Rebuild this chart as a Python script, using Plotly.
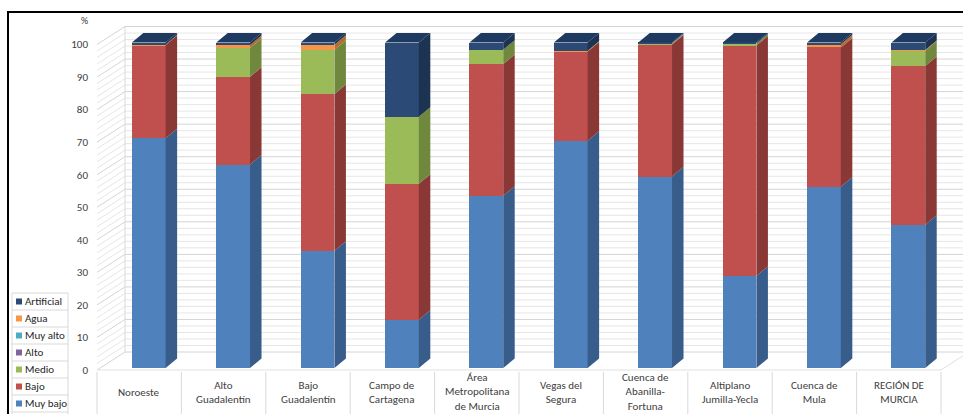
import plotly.graph_objects as go

# ---------------- data ----------------
categories = ["Noroeste", "Alto<br>Guadalentín", "Bajo<br>Guadalentín", "Campo de<br>Cartagena",
              "Área<br>Metropolitana<br>de Murcia", "Vegas del<br>Segura",
              "Cuenca de<br>Abanilla-<br>Fortuna", "Altiplano<br>Jumilla-Yecla",
              "Cuenca de<br>Mula", "REGIÓN DE<br>MURCIA"]

series_names = ["Muy bajo", "Bajo", "Medio", "Alto", "Muy alto", "Agua", "Artificial"]
muy_bajo   = [70.6, 62.5, 36.0, 14.8, 52.9, 69.8, 58.8, 28.3, 55.7, 44.0]
bajo       = [28.6, 27.0, 48.2, 41.8, 40.5, 27.4, 40.6, 70.8, 42.8, 48.8]
medio      = [0.0, 8.8, 13.6, 20.6, 4.4, 0.0, 0.2, 0.6, 0.0, 4.7]
alto       = [0.0] * 10
muy_alto   = [0.0] * 10
agua       = [0.2, 0.9, 1.5, 0.0, 0.0, 0.3, 0.2, 0.0, 1.0, 0.2]
artificial = [0.6, 0.8, 0.7, 22.8, 2.2, 2.5, 0.2, 0.3, 0.5, 2.3]
series_values = [muy_bajo, bajo, medio, alto, muy_alto, agua, artificial]

y_ticks = list(range(0, 101, 10))

# ---------------- style ----------------
front_colors = ["#4F81BD", "#C0504D", "#9BBB59", "#8064A2", "#4BACC6", "#F79646", "#2B4A76"]
side_colors  = ["#385D8A", "#8A3836", "#6F883D", "#5C4776", "#31849B", "#B66D31", "#1C3352"]
top_colors   = ["#3F6AA0", "#A84543", "#86A54A", "#6C5490", "#3C98B0", "#E0843A", "#1F3A61"]

FONT = "Carlito, Lato, 'Liberation Sans', sans-serif"
TXT = "#404040"

# pixel geometry
W, H = 963, 414
L, R, T, B = 97, 0, 14, 42
PW, PH = W - L - R, H - T - B
CAT_PX = 84.4                 # pixels per category
PX_PER_UNIT = 3.255           # pixels per value unit
xmin = -0.5
xmax = xmin + PW / CAT_PX
ymin = -(H - B - 368) / PX_PER_UNIT
ymax = ymin + PH / PX_PER_UNIT

bar_w = 0.40
bar_off = 0.113
dx = 11.5 / CAT_PX
dy = 9.5 / PX_PER_UNIT
front_off = -2.0 / PX_PER_UNIT
wall_dx = 28 / CAT_PX
wall_dy = 16 / PX_PER_UNIT


def pxx(px):
    return (px - L) / PW


def pxy(py):
    return (H - B - py) / PH


def xpaper(xv):
    return (xv - xmin) / (xmax - xmin)


fig = go.Figure()
n = len(categories)
xs = [i + bar_off for i in range(n)]

# front faces
for name, vals, col in zip(series_names, series_values, front_colors):
    fig.add_trace(go.Bar(x=xs, y=vals, name=name, width=bar_w, marker=dict(color=col, line=dict(width=0)),
                         showlegend=False, hovertemplate=name + ": %{y}%<extra></extra>"))

# side faces & top faces
tops = {}
for i in range(n):
    base = 0.0
    top_idx = None
    for s, vals in enumerate(series_values):
        if vals[i] > 0:
            top_idx = s
        base += vals[i]
    tops[i] = (base, top_idx)

for s, (vals, col) in enumerate(zip(series_values, side_colors)):
    px_, py_ = [], []
    for i in range(n):
        lo = sum(series_values[k][i] for k in range(s))
        hi = lo + vals[i]
        if vals[i] <= 0:
            continue
        x1 = xs[i] + bar_w / 2
        px_ += [x1, x1, x1 + dx, x1 + dx, x1, None]
        py_ += [lo, hi, hi + dy, lo + dy, lo, None]
    if px_:
        fig.add_trace(go.Scatter(x=px_, y=py_, mode="lines", fill="toself", fillcolor=col,
                                 line=dict(width=0, color=col), hoverinfo="skip", showlegend=False))

top_groups = {}
for i in range(n):
    tot, idx = tops[i]
    x0 = xs[i] - bar_w / 2
    x1 = xs[i] + bar_w / 2
    g = top_groups.setdefault(idx, ([], []))
    g[0].extend([x0, x1, x1 + dx, x0 + dx, x0, None])
    g[1].extend([tot, tot, tot + dy, tot + dy, tot, None])
for idx, (gx, gy) in top_groups.items():
    fig.add_trace(go.Scatter(x=gx, y=gy, mode="lines", fill="toself", fillcolor=top_colors[idx],
                             line=dict(width=0, color=top_colors[idx]), hoverinfo="skip", showlegend=False))

shapes = []
# back wall gridlines & side wall diagonals
for v in range(0, 101, 2):
    major = v % 10 == 0
    c = "#D4D4D4" if major else "#E6E6E6"
    shapes.append(dict(type="line", xref="x", yref="y", x0=xmin + wall_dx, x1=xmax,
                       y0=v + wall_dy, y1=v + wall_dy, line=dict(color=c, width=1), layer="below"))
    shapes.append(dict(type="line", xref="x", yref="y", x0=xmin, x1=xmin + wall_dx,
                       y0=v + front_off, y1=v + wall_dy, line=dict(color=c, width=1), layer="below"))
# back wall left edge, floor edges
shapes.append(dict(type="line", xref="x", yref="y", x0=xmin + wall_dx, x1=xmin + wall_dx,
                   y0=wall_dy, y1=100 + wall_dy, line=dict(color="#D9D9D9", width=1), layer="below"))
shapes.append(dict(type="line", xref="x", yref="y", x0=xmin, x1=n - 0.5,
                   y0=front_off, y1=front_off, line=dict(color="#E0E0E0", width=1), layer="below"))
shapes.append(dict(type="line", xref="x", yref="y", x0=n - 0.5, x1=n - 0.5 + wall_dx,
                   y0=front_off, y1=wall_dy, line=dict(color="#E0E0E0", width=1), layer="below"))

# category separators
for k in range(n + 1):
    xp = xpaper(k - 0.5)
    shapes.append(dict(type="line", xref="paper", yref="paper", x0=xp, x1=xp,
                       y0=pxy(372), y1=pxy(416), line=dict(color="#D9D9D9", width=1)))

# outer frame (top and left)
shapes.append(dict(type="line", xref="paper", yref="paper", x0=pxx(7), x1=pxx(965),
                   y0=pxy(12), y1=pxy(12), line=dict(color="#000000", width=2)))
shapes.append(dict(type="line", xref="paper", yref="paper", x0=pxx(8), x1=pxx(8),
                   y0=pxy(12), y1=pxy(416), line=dict(color="#000000", width=2)))

annotations = []
# category labels
for i, lab in enumerate(categories):
    annotations.append(dict(x=i, y=pxy(392), xref="x", yref="paper", text=lab, showarrow=False,
                            xanchor="center", yanchor="middle", align="center",
                            font=dict(family=FONT, size=11, color=TXT)))
# unit label
annotations.append(dict(x=pxx(84), y=pxy(20), xref="paper", yref="paper", text="%", showarrow=False,
                        xanchor="center", yanchor="middle", font=dict(family=FONT, size=10, color=TXT)))

# manual legend (table-like)
leg_left, leg_right, leg_top, row_h = 12, 68, 293, 17
order = list(range(len(series_names)))[::-1]
for r, s in enumerate(order):
    ytop = leg_top + r * row_h
    yc = ytop + row_h / 2
    shapes.append(dict(type="rect", xref="paper", yref="paper", x0=pxx(16), x1=pxx(22),
                       y0=pxy(yc - 3), y1=pxy(yc + 3), fillcolor=front_colors[s], line=dict(width=0)))
    annotations.append(dict(x=pxx(23), y=pxy(yc), xref="paper", yref="paper", text=series_names[s],
                            showarrow=False, xanchor="left", yanchor="middle",
                            font=dict(family=FONT, size=11, color="#262626")))
for r in range(len(series_names) + 1):
    yl = leg_top + r * row_h
    shapes.append(dict(type="line", xref="paper", yref="paper", x0=pxx(leg_left), x1=pxx(leg_right),
                       y0=pxy(yl), y1=pxy(yl), line=dict(color="#D9D9D9", width=1)))
for xl in (leg_left, leg_right):
    shapes.append(dict(type="line", xref="paper", yref="paper", x0=pxx(xl), x1=pxx(xl),
                       y0=pxy(leg_top), y1=pxy(416), line=dict(color="#D9D9D9", width=1)))

fig.update_layout(
    width=W, height=H, autosize=False,
    margin=dict(l=L, r=R, t=T, b=B, pad=0),
    paper_bgcolor="white", plot_bgcolor="white",
    barmode="stack", bargap=0, showlegend=False,
    shapes=shapes, annotations=annotations,
    xaxis=dict(range=[xmin, xmax], showticklabels=False, showgrid=False, zeroline=False,
               showline=False, ticks="", fixedrange=True),
    yaxis=dict(range=[ymin, ymax], tickvals=[v + front_off for v in y_ticks],
               ticktext=[str(v) for v in y_ticks], showgrid=False, zeroline=False, showline=False,
               ticks="", ticklabelstandoff=8, tickfont=dict(family=FONT, size=11, color=TXT),
               fixedrange=True),
    font=dict(family=FONT, color=TXT),
)

fig.write_html("out.html")
